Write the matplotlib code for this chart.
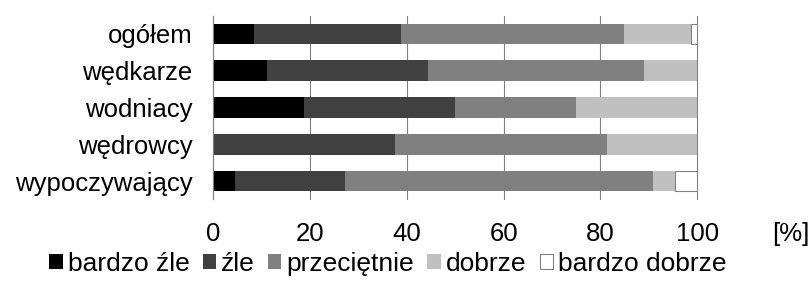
import matplotlib
matplotlib.use("Agg")
import matplotlib.pyplot as plt
import numpy as np

plt.rcParams['font.family'] = ['Liberation Sans', 'DejaVu Sans']

categories = ["ogółem", "wędkarze", "wodniacy", "wędrowcy", "wypoczywający"]
series_names = ["bardzo źle", "źle", "przeciętnie", "dobrze", "bardzo dobrze"]
bardzo_zle = [8.4, 11.1, 18.75, 0.0, 4.55]
zle = [30.4, 33.3, 31.25, 37.5, 22.73]
przecietnie = [46.0, 44.5, 25.0, 43.75, 63.64]
dobrze = [14.0, 11.1, 25.0, 18.75, 4.54]
bardzo_dobrze = [1.2, 0.0, 0.0, 0.0, 4.54]
xticks = [0, 20, 40, 60, 80, 100]
unit_label = "[%]"

series = [bardzo_zle, zle, przecietnie, dobrze, bardzo_dobrze]
colors = ["#000000", "#404040", "#808080", "#c0c0c0", "#ffffff"]
edges = ["none", "none", "none", "none", "#808080"]

W, H = 811, 302
fig = plt.figure(figsize=(W / 100, H / 100), dpi=100)
ax = fig.add_axes([213.3 / W, 1 - 199.4 / H, (697.3 - 213.3) / W, (199.4 - 15.6) / H])

y = np.arange(len(categories))
left = np.zeros(len(categories))
handles = []
for vals, name, c, e in zip(series, series_names, colors, edges):
    v = np.array(vals)
    b = ax.barh(y, v, left=left, height=0.57, color=c, edgecolor=e,
                linewidth=0.8 if e != "none" else 0, label=name, zorder=2)
    handles.append(b)
    left += v

ax.set_xlim(0, 100)
ax.set_ylim(len(categories) - 0.5, -0.5)
ax.set_yticks(y)
ax.set_yticklabels(categories, fontsize=18.5)
ax.set_xticks(xticks)
ax.set_xticklabels([str(t) for t in xticks], fontsize=18.5)
xpad = 16.5
ax.tick_params(axis='x', length=0, pad=xpad)
ax.tick_params(axis='y', length=0, pad=15)
ax.grid(axis='x', color='#808080', linewidth=0.8, zorder=0)
for gl in ax.get_xgridlines():
    gl.set_clip_on(False)
ax.set_axisbelow(True)
for s in ['top', 'right', 'bottom']:
    ax.spines[s].set_visible(False)
ax.spines['left'].set_color('#808080')
ax.spines['left'].set_linewidth(0.8)

ax.annotate(unit_label, xy=(119.4, 0), xycoords=('data', 'axes fraction'),
            xytext=(0, -xpad), textcoords='offset points', ha='center', va='top',
            fontsize=18.5, annotation_clip=False)

leg = fig.legend(handles=handles, labels=series_names, loc='center',
                 bbox_to_anchor=(388 / W, 1 - 264 / H), ncol=5, frameon=False,
                 fontsize=19, handlelength=0.5, handleheight=0.5,
                 handletextpad=0.2, columnspacing=0.5, borderaxespad=0,
                 borderpad=0)

fig.savefig("out.png", dpi=100)
